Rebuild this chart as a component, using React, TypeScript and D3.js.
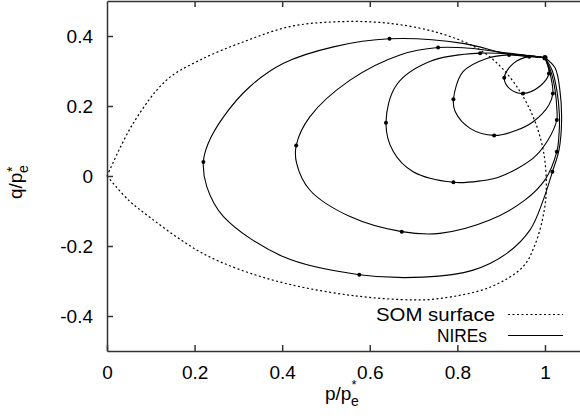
import * as React from "react";
import * as d3 from "d3";

type Pt = [number, number];

const xTicks = [0, 0.2, 0.4, 0.6, 0.8, 1];
const xTickLabels = ["0", "0.2", "0.4", "0.6", "0.8", "1"];
const yTicks = [-0.4, -0.2, 0, 0.2, 0.4];
const yTickLabels = ["-0.4", "-0.2", "0", "0.2", "0.4"];
const legendLabels = ["SOM surface", "NIREs"];

// SOM surface, from the origin over the top and back along the bottom
const somSurface: Pt[] = [
  [0, 0], [0.06, 0.151], [0.136, 0.274], [0.212, 0.331], [0.315, 0.385],
  [0.418, 0.427], [0.532, 0.441], [0.646, 0.436], [0.76, 0.408], [0.852, 0.36],
  [0.913, 0.293], [0.966, 0.189], [0.996, 0.074], [1.003, -0.04], [0.995, -0.12],
  [0.976, -0.2], [0.95, -0.259], [0.874, -0.318], [0.76, -0.35], [0.7, -0.354],
  [0.57, -0.343], [0.418, -0.31], [0.3, -0.266], [0.22, -0.222], [0.16, -0.175],
  [0.1, -0.12], [0.05, -0.07], [0, 0],
];

// NIREs: closed loops through the common point (1, 0.338)
const nire1: Pt[] = [
  [1.0, 0.338], [1.023, 0.309], [1.034, 0.246], [1.038, 0.16], [1.032, 0.074],
  [1.017, 0.012], [0.996, -0.069], [0.966, -0.154], [0.913, -0.221], [0.836, -0.269],
  [0.722, -0.289], [0.576, -0.282], [0.403, -0.231], [0.266, -0.116], [0.228, -0.031],
  [0.22, 0.04], [0.231, 0.093], [0.266, 0.169], [0.326, 0.255], [0.403, 0.322],
  [0.517, 0.369], [0.645, 0.392], [0.813, 0.379], [0.916, 0.348], [1.0, 0.338],
];
const nire2: Pt[] = [
  [1.0, 0.338], [1.016, 0.303], [1.027, 0.246], [1.033, 0.174], [1.032, 0.117],
  [1.027, 0.069], [1.0, -0.011], [0.954, -0.069], [0.874, -0.126], [0.76, -0.164],
  [0.673, -0.159], [0.555, -0.116], [0.463, -0.04], [0.433, 0.036], [0.432, 0.087],
  [0.463, 0.169], [0.555, 0.274], [0.669, 0.346], [0.756, 0.367], [0.829, 0.365],
  [0.89, 0.355], [1.0, 0.338],
];
const nire3: Pt[] = [
  [1.0, 0.338], [1.014, 0.297], [1.023, 0.246], [1.027, 0.194], [1.027, 0.16],
  [1.007, 0.103], [0.973, 0.051], [0.897, -0.002], [0.852, -0.014], [0.791, -0.018],
  [0.699, 0.012], [0.654, 0.069], [0.637, 0.152], [0.661, 0.26], [0.737, 0.327],
  [0.852, 0.351], [1.0, 0.338],
];
const nire4: Pt[] = [
  [1.0, 0.338], [1.011, 0.297], [1.018, 0.236], [1.009, 0.203], [0.973, 0.155],
  [0.932, 0.129], [0.884, 0.116], [0.829, 0.136], [0.795, 0.184], [0.791, 0.219],
  [0.813, 0.298], [0.867, 0.336], [0.918, 0.346], [1.0, 0.338],
];
const nire5: Pt[] = [
  [1.0, 0.338], [1.009, 0.293], [0.989, 0.257], [0.95, 0.236], [0.92, 0.249],
  [0.907, 0.281], [0.928, 0.322], [0.964, 0.341], [1.0, 0.338],
];

const nireDots: Pt[] = [
  [1.0, 0.338],
  [1.017, 0.012], [0.576, -0.282], [0.22, 0.04], [0.645, 0.392],
  [1.027, 0.069], [0.673, -0.159], [0.432, 0.087], [0.756, 0.367],
  [1.027, 0.16], [0.791, -0.018], [0.637, 0.152], [0.852, 0.351],
  [1.018, 0.236], [0.884, 0.116], [0.791, 0.219], [0.918, 0.346],
  [1.009, 0.293], [0.95, 0.236], [0.907, 0.281], [0.964, 0.341],
];

function drawChart(svgRef: React.RefObject<SVGSVGElement | null>) {
  const width = 580;
  const height = 419;
  const left = 107, right = 580, top = 1, bottom = 351;
  const font = "'Liberation Sans', Arial, Helvetica, sans-serif";
  const fs = 19;

  const x = d3.scaleLinear().domain([0, 1.08]).range([left, right]);
  const y = d3.scaleLinear().domain([-0.5, 0.5]).range([bottom, top]);

  const svg = d3.select(svgRef.current).attr("width", width).attr("height", height);
  svg.selectAll("*").remove();

  const line = d3
    .line<Pt>()
    .x((d) => x(d[0]))
    .y((d) => y(d[1]))
    .curve(d3.curveCatmullRom.alpha(0.5));

  svg
    .append("path")
    .attr("d", line(somSurface))
    .attr("fill", "none")
    .attr("stroke", "#000")
    .attr("stroke-width", 1.2)
    .attr("stroke-dasharray", "2,2.5");

  [nire1, nire2, nire3, nire4, nire5].forEach((loop) => {
    svg
      .append("path")
      .attr("d", line(loop))
      .attr("fill", "none")
      .attr("stroke", "#000")
      .attr("stroke-width", 1.1);
  });

  svg
    .selectAll(".dot")
    .data(nireDots)
    .enter()
    .append("circle")
    .classed("dot", true)
    .attr("cx", (d) => x(d[0]))
    .attr("cy", (d) => y(d[1]))
    .attr("r", (d, i) => (i === 0 ? 2.6 : 2))
    .attr("fill", "#000");

  // axes
  const styleAxis = (g: any) => {
    g.attr("font-family", font).attr("font-size", fs);
    g.selectAll("path, line").attr("stroke", "#333").attr("stroke-width", 1.5);
    g.selectAll("text").attr("fill", "#000");
  };

  svg
    .append("g")
    .attr("transform", `translate(${left},0)`)
    .call(
      d3.axisLeft(y).tickValues(yTicks).tickSize(-6).tickSizeOuter(0).tickPadding(14)
        .tickFormat((d, i) => yTickLabels[i])
    )
    .call(styleAxis);

  svg
    .append("g")
    .attr("transform", `translate(0,${bottom})`)
    .call(
      d3.axisBottom(x).tickValues(xTicks).tickSize(-6).tickSizeOuter(0).tickPadding(15)
        .tickFormat((d, i) => xTickLabels[i])
    )
    .call(styleAxis);

  svg
    .append("g")
    .attr("transform", `translate(0,${top})`)
    .call(
      d3.axisTop(x).tickValues(xTicks.slice(1)).tickSize(-6).tickSizeOuter(0).tickFormat(() => "")
    )
    .call(styleAxis);

  // axis titles
  const xt = svg.append("g").attr("font-family", font).attr("fill", "#000");
  xt.append("text").attr("x", 325).attr("y", 400).attr("font-size", fs).text("p/p");
  xt.append("text").attr("x", 351.5).attr("y", 389).attr("font-size", 13).text("*");
  xt.append("text").attr("x", 351).attr("y", 406).attr("font-size", 14).text("e");

  const yt = svg
    .append("g")
    .attr("transform", "translate(22,199) rotate(-90)")
    .attr("font-family", font)
    .attr("fill", "#000");
  yt.append("text").attr("x", 0).attr("y", 0).attr("font-size", fs).text("q/p");
  yt.append("text").attr("x", 27).attr("y", -5).attr("font-size", 14).text("*");
  yt.append("text").attr("x", 26).attr("y", 6).attr("font-size", 14).text("e");

  // legend
  const legend = svg
    .append("g")
    .attr("font-family", font)
    .attr("font-size", fs);
  const legendStart = [376, 437];
  const legendWidth = [119, 50];
  legendLabels.forEach((label, i) => {
    const ly = 314.5 + i * 21;
    legend
      .append("text")
      .attr("x", legendStart[i])
      .attr("y", ly)
      .attr("dy", "0.35em")
      .attr("textLength", legendWidth[i])
      .attr("lengthAdjust", "spacingAndGlyphs")
      .attr("fill", "#000")
      .text(label);
    legend
      .append("line")
      .attr("x1", 508)
      .attr("x2", 563)
      .attr("y1", ly)
      .attr("y2", ly)
      .attr("stroke", "#000")
      .attr("stroke-width", 1.1)
      .attr("stroke-dasharray", i === 0 ? "2,2.5" : null);
  });
}

const App = () => {
  const svgRef = React.useRef<SVGSVGElement | null>(null);

  React.useEffect(() => {
    drawChart(svgRef);
  }, [svgRef]);

  return (
    <div id="chart" style={{ position: "absolute", left: 0, top: 0 }}>
      <svg ref={svgRef} style={{ display: "block", background: "#fff" }} />
    </div>
  );
};

export default App;
